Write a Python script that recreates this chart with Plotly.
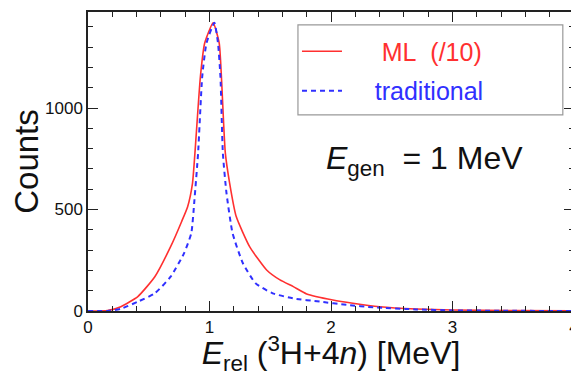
import plotly.graph_objects as go

# Data
ml_x = [0.0, 0.16, 0.27, 0.41, 0.55, 0.68, 0.77, 0.82, 0.86, 0.88, 0.925, 0.96, 1.03,
        1.08, 1.098, 1.13, 1.166, 1.22, 1.33, 1.47, 1.58, 1.69, 1.80, 2.015, 2.18, 2.4, 2.7, 3.0, 3.5, 4.0]
ml_y = [0, 2, 21, 71, 169, 317, 440, 514, 629, 777, 1154, 1319, 1420,
        1319, 1154, 780, 629, 465, 317, 202, 153, 120, 84, 54, 38, 21, 10, 5, 2, 1]

tr_x = [0.0, 0.16, 0.27, 0.41, 0.55, 0.68, 0.79, 0.85, 0.876, 0.906, 0.94, 0.975, 1.04,
        1.07, 1.09, 1.11, 1.14, 1.19, 1.275, 1.38, 1.52, 1.69, 1.91, 2.13, 2.35, 2.7, 3.0, 3.5, 4.0]
tr_y = [0, 0, 11, 46, 87, 169, 284, 383, 547, 777, 1154, 1319, 1420,
        1319, 1154, 777, 580, 383, 235, 136, 87, 62, 46, 30, 18, 8, 3, 1, 0]

x_ticks = [0, 1, 2, 3, 4]
y_ticks = [0, 500, 1000]

FONT = "Liberation Sans, Arial, sans-serif"
RED = "#ff3030"
BLUE = "#3030ff"

fig = go.Figure()
fig.add_trace(go.Scatter(x=ml_x, y=ml_y, mode="lines", legendgroup="a",
                         name="\u00a0\u00a0\u00a0\u00a0\u00a0<span style='color:%s'>ML\u00a0\u00a0(/10)</span>" % RED,
                         line=dict(color=RED, width=1.6, shape="spline", smoothing=0.5)))
fig.add_trace(go.Scatter(x=tr_x, y=tr_y, mode="lines", legendgroup="b",
                         name="\u00a0\u00a0\u00a0\u00a0<span style='color:%s'>traditional</span>" % BLUE,
                         line=dict(color=BLUE, width=2, dash="5px,4px", shape="spline", smoothing=0.5)))

# page body has an 8px margin: figure is sized/offset to compensate
fig.update_layout(
    width=571, height=368,
    margin=dict(l=80, r=5, t=4, b=65),
    paper_bgcolor="white", plot_bgcolor="white",
    font=dict(family=FONT, color="#111"),
    showlegend=True,
    legend=dict(x=0.43, y=0.945, xanchor="left", yanchor="top",
                bgcolor="rgba(0,0,0,0)", borderwidth=0, traceorder="grouped",
                font=dict(size=25, family=FONT), itemwidth=40, tracegroupgap=4),
    shapes=[dict(type="rect", xref="paper", yref="paper", x0=0.432, x1=0.977, y0=0.656, y1=0.957,
                 line=dict(color="#999", width=1.2), fillcolor="rgba(0,0,0,0)")],
    annotations=[dict(text="<i>E</i><sub>gen</sub>\u00a0 = 1 MeV", xref="paper", yref="paper",
                      x=0.693, y=0.505, xanchor="center", yanchor="middle", showarrow=False,
                      font=dict(size=32, family=FONT, color="#111"))],
)

fig.update_xaxes(range=[0, 4], tickvals=x_ticks, ticks="inside", ticklen=10, tickwidth=1.3, tickcolor="#222",
                 showline=True, linecolor="#222", linewidth=1.5, mirror="allticks", showgrid=False,
                 zeroline=False, tickfont=dict(size=17), automargin=False,
                 minor=dict(dtick=0.2, ticks="inside", ticklen=5, tickcolor="#222", tickwidth=1.3, showgrid=False),
                 title=dict(text="<i>E</i><sub>rel</sub> (<sup>3</sup>H+4<i>n</i>) [MeV]", font=dict(size=32), standoff=4))
fig.update_yaxes(range=[0, 1473], tickvals=y_ticks, ticks="inside", ticklen=10, tickwidth=1.3, tickcolor="#222",
                 showline=True, linecolor="#222", linewidth=1.5, mirror="allticks", showgrid=False,
                 zeroline=False, tickfont=dict(size=17), automargin=False,
                 minor=dict(dtick=100, ticks="inside", ticklen=5, tickcolor="#222", tickwidth=1.3, showgrid=False),
                 title=dict(text="Counts", font=dict(size=33), standoff=6))

fig.write_html("out.html")
